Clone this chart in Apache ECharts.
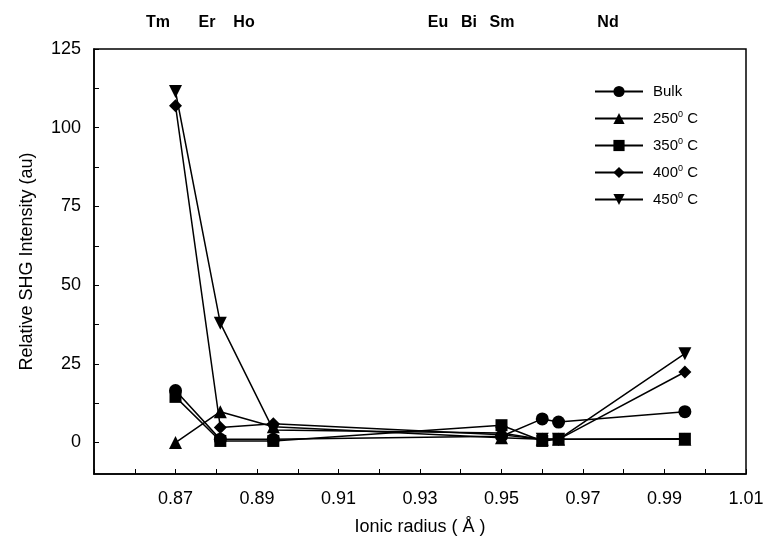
<!DOCTYPE html>
<html>
<head>
<meta charset="utf-8">
<script src="https://cdn.jsdelivr.net/npm/echarts@6/dist/echarts.min.js"></script>
<style>
  html, body { margin: 0; padding: 0; background: #fff; }
  #chart { width: 770px; height: 541px; }
</style>
</head>
<body>
<div id="chart"></div>
<script>
// ionic radius (A) of each dopant
const radii = [0.87, 0.881, 0.894, 0.95, 0.96, 0.964, 0.995]
const bulk = [16.5, 1, 1, 2, 7.5, 6.5, 9.8]
const t250 = [0, 9.8, 5, 1.5, 1, 1, 1]
const t350 = [14.5, 0.5, 0.5, 5.5, 0.5, 1, 1.2]
const t400 = [107, 4.8, 6, 2.5, 1, 1, 22.4]
const t450 = [111.5, 37.9, 4, 3, 1, 1, 28.2]
const elements = ['Tm', 'Er', 'Ho', 'Eu', 'Bi', 'Sm', 'Nd']
const elementX = [158, 207, 244, 438, 469, 502, 608]
const yTicks = [0, 12.5, 25, 37.5, 50, 62.5, 75, 87.5, 100, 112.5, 125]
const yLabels = [0, 25, 50, 75, 100, 125]
const xLabels = [0.87, 0.89, 0.91, 0.93, 0.95, 0.97, 0.99, 1.01]

const font = '"Liberation Sans", Arial, sans-serif'
const chart = echarts.init(document.getElementById('chart'))

function pairs(ys) {
  return radii.map((x, i) => [x, ys[i]])
}

function makeSeries(name, ys, symbol, size, rotate) {
  return {
    name: name,
    type: 'line',
    data: pairs(ys),
    symbol: symbol,
    symbolSize: size,
    symbolRotate: rotate || 0,
    showSymbol: true,
    lineStyle: { color: '#000', width: 1.5 },
    itemStyle: { color: '#000', borderWidth: 0 },
    animation: false
  }
}

chart.setOption({
  backgroundColor: '#fff',
  textStyle: { fontFamily: font },
  grid: {
    left: 94,
    right: 24,
    top: 49,
    bottom: 58,
    show: true,
    borderColor: '#000',
    borderWidth: 1.5
  },
  legend: {
    orient: 'vertical',
    left: 589,
    top: 79,
    itemWidth: 48,
    itemHeight: 14,
    itemGap: 11,
    data: ['Bulk', '250', '350', '400', '450'],
    formatter: function(name) {
      if (name === 'Bulk') return 'Bulk'
      return name + '{sup|0} C'
    },
    textStyle: {
      fontFamily: font,
      fontSize: 15,
      color: '#000',
      padding: [0, 0, 0, 5],
      rich: {
        sup: { fontSize: 9, verticalAlign: 'top', padding: [0, 0, 8, 0], fontFamily: font, color: '#000' }
      }
    }
  },
  xAxis: {
    type: 'value',
    min: 0.85,
    max: 1.01,
    interval: 0.01,
    name: 'Ionic radius ( Å )',
    nameLocation: 'middle',
    nameGap: 44,
    nameTextStyle: { fontSize: 18, color: '#000', fontFamily: font },
    axisLine: { onZero: false, lineStyle: { color: '#000', width: 1.5 } },
    axisTick: { inside: true, length: 5, lineStyle: { color: '#000' } },
    splitLine: { show: false },
    axisLabel: {
      fontSize: 18,
      color: '#000',
      margin: 16,
      fontFamily: font,
      customValues: xLabels,
      formatter: function(v) { return v.toFixed(2) }
    }
  },
  yAxis: {
    type: 'value',
    min: -10,
    max: 125,
    name: 'Relative SHG Intensity (au)',
    nameLocation: 'middle',
    nameGap: 58,
    nameTextStyle: { fontSize: 18, color: '#000', fontFamily: font },
    axisLine: { onZero: false, lineStyle: { color: '#000', width: 1.5 } },
    axisTick: { inside: true, length: 5, lineStyle: { color: '#000' }, customValues: yTicks },
    splitLine: { show: false },
    axisLabel: {
      fontSize: 18,
      color: '#000',
      margin: 13,
      fontFamily: font,
      customValues: yLabels
    }
  },
  graphic: elements.map((t, i) => ({
    type: 'text',
    x: elementX[i],
    y: 23,
    style: {
      text: t,
      fontFamily: font,
      fontSize: 16,
      fontWeight: 'bold',
      fill: '#000',
      align: 'center',
      verticalAlign: 'middle'
    }
  })),
  series: [
    makeSeries('Bulk', bulk, 'circle', 13),
    makeSeries('250', t250, 'triangle', 13),
    makeSeries('350', t350, 'rect', 12),
    makeSeries('400', t400, 'diamond', 13),
    makeSeries('450', t450, 'triangle', 13, 180)
  ]
})
</script>
</body>
</html>
